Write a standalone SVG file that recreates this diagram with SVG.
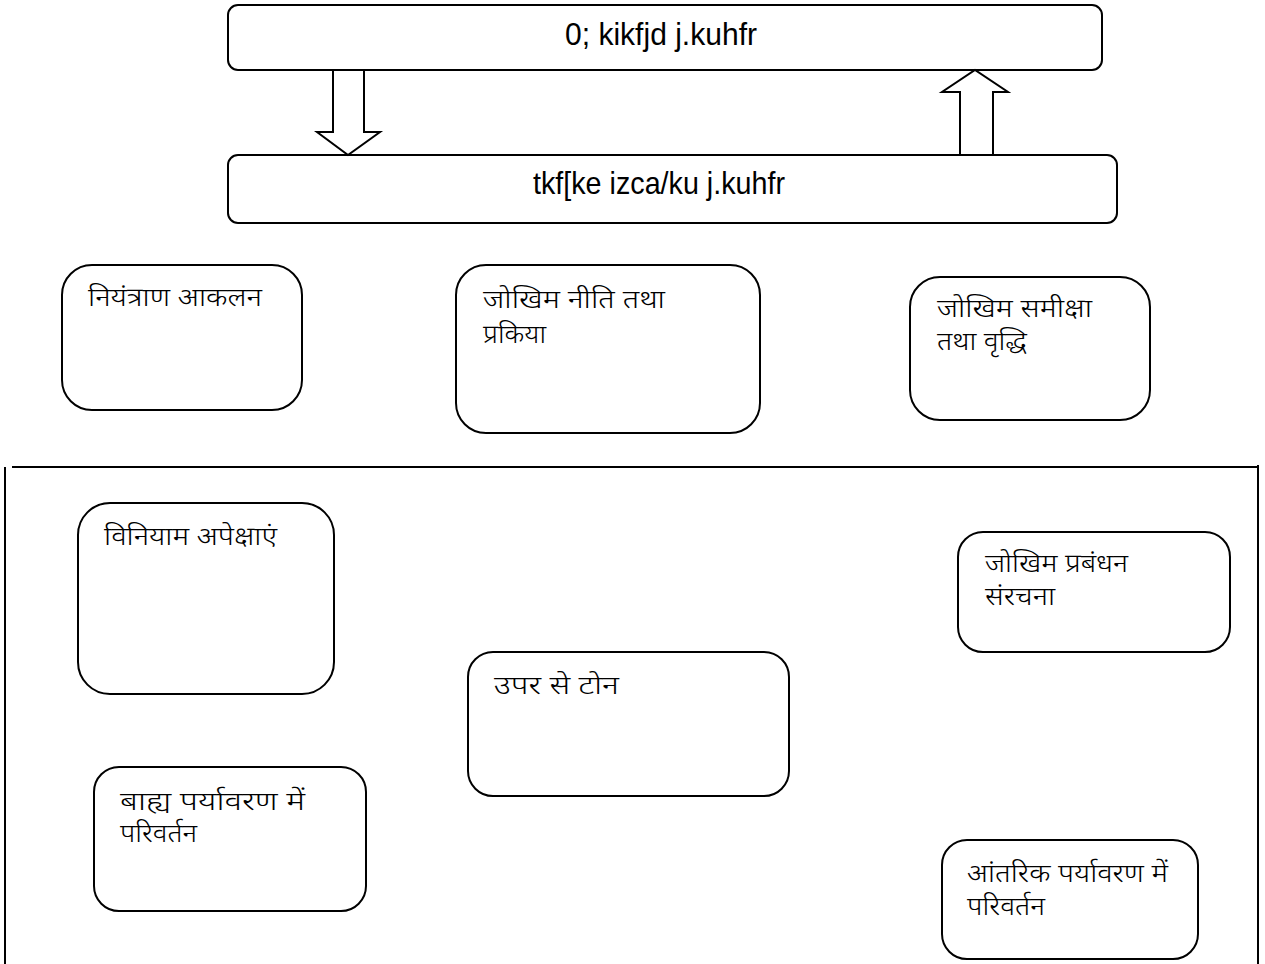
<svg xmlns="http://www.w3.org/2000/svg" width="1265" height="964" viewBox="0 0 1265 964">
  <style>
    .box { fill: #ffffff; stroke: #000000; stroke-width: 2; }
    .arrow { fill: #ffffff; stroke: #000000; stroke-width: 2; stroke-linejoin: miter; }
    .frame { fill: none; stroke: #000000; stroke-width: 2; }
    .legacy { font-family: "Liberation Sans Narrow", "Liberation Sans", "DejaVu Sans", sans-serif; font-size: 32px; fill: #000000; }
    .label { font-family: "Noto Sans Devanagari", "Noto Sans", "Lohit Devanagari", "Mangal", sans-serif; font-size: 26px; font-weight: 300; fill: #000000; }
  </style>

  <!-- outer frame around the lower section -->
  <g id="frame">
    <line class="frame" x1="5" y1="467" x2="5" y2="964"/>
    <line class="frame" x1="12" y1="467" x2="1258" y2="467"/>
    <line class="frame" x1="1258" y1="465" x2="1258" y2="964"/>
  </g>

  <!-- strategy bars -->
  <g id="strategy-top">
    <rect class="box" x="228" y="5" width="874" height="65" rx="10"/>
    <text class="legacy" x="565" y="45" textLength="192" lengthAdjust="spacingAndGlyphs">0; kikfjd j.kuhfr</text>
  </g>
  <g id="strategy-risk">
    <rect class="box" x="228" y="155" width="889" height="68" rx="10"/>
    <text class="legacy" x="533" y="194" textLength="252" lengthAdjust="spacingAndGlyphs">tkf[ke izca/ku j.kuhfr</text>
  </g>

  <!-- block arrows between the bars -->
  <g id="connectors">
    <polygon class="arrow" points="333,70 364,70 364,132 380,132 348,155 317,132 333,132"/>
    <polygon class="arrow" points="960,155 993,155 993,92 1008,92 975,70 942,92 960,92"/>
  </g>

  <!-- nodes -->
  <g id="node-control">
    <rect class="box" x="62" y="265" width="240" height="145" rx="30"/>
    <text class="label" x="88" y="306" textLength="174" lengthAdjust="spacingAndGlyphs">नियंत्राण आकलन</text>
  </g>
  <g id="node-policy">
    <rect class="box" x="456" y="265" width="304" height="168" rx="30"/>
    <text class="label" x="483" y="308" textLength="182" lengthAdjust="spacingAndGlyphs">जोखिम नीति तथा</text>
    <text class="label" x="483" y="343" textLength="63" lengthAdjust="spacingAndGlyphs">प्रकिया</text>
  </g>
  <g id="node-review">
    <rect class="box" x="910" y="277" width="240" height="143" rx="30"/>
    <text class="label" x="937" y="317" textLength="155" lengthAdjust="spacingAndGlyphs">जोखिम समीक्षा</text>
    <text class="label" x="937" y="350" textLength="90" lengthAdjust="spacingAndGlyphs">तथा वृद्धि</text>
  </g>
  <g id="node-regulation">
    <rect class="box" x="78" y="503" width="256" height="191" rx="32"/>
    <text class="label" x="104" y="545" textLength="173" lengthAdjust="spacingAndGlyphs">विनियाम अपेक्षाएं</text>
  </g>
  <g id="node-structure">
    <rect class="box" x="958" y="532" width="272" height="120" rx="25"/>
    <text class="label" x="985" y="572" textLength="143" lengthAdjust="spacingAndGlyphs">जोखिम प्रबंधन</text>
    <text class="label" x="985" y="605" textLength="70" lengthAdjust="spacingAndGlyphs">संरचना</text>
  </g>
  <g id="node-tone">
    <rect class="box" x="468" y="652" width="321" height="144" rx="25"/>
    <text class="label" x="494" y="694" textLength="125" lengthAdjust="spacingAndGlyphs">उपर से टोन</text>
  </g>
  <g id="node-external">
    <rect class="box" x="94" y="767" width="272" height="144" rx="25"/>
    <text class="label" x="120" y="810" textLength="185" lengthAdjust="spacingAndGlyphs">बाह्य पर्यावरण में</text>
    <text class="label" x="120" y="842" textLength="77" lengthAdjust="spacingAndGlyphs">परिवर्तन</text>
  </g>
  <g id="node-internal">
    <rect class="box" x="942" y="840" width="256" height="119" rx="25"/>
    <text class="label" x="967" y="882" textLength="201" lengthAdjust="spacingAndGlyphs">आंतरिक पर्यावरण में</text>
    <text class="label" x="967" y="915" textLength="78" lengthAdjust="spacingAndGlyphs">परिवर्तन</text>
  </g>
</svg>
